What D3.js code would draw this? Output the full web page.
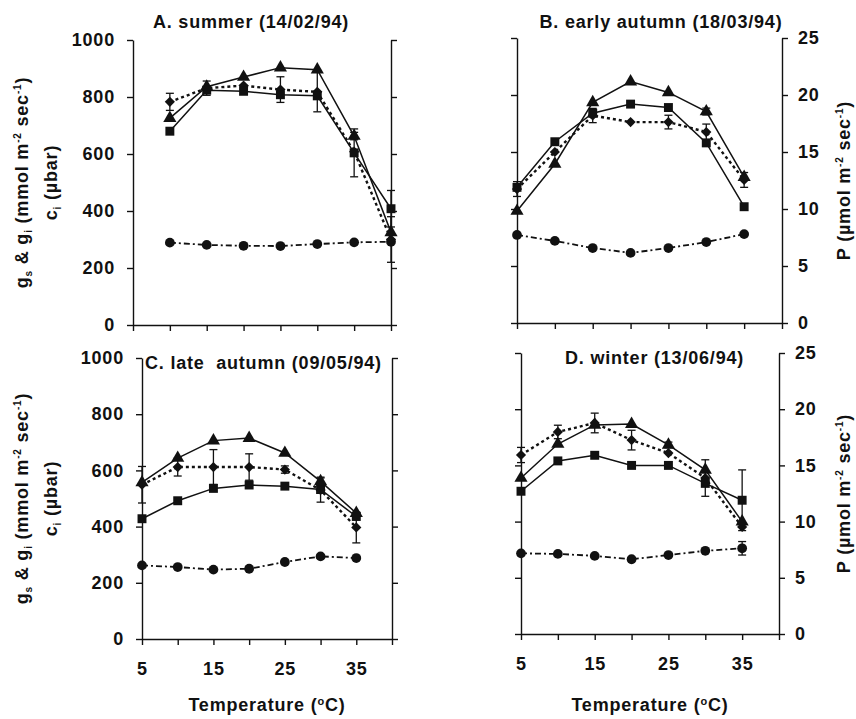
<!DOCTYPE html>
<html>
<head>
<meta charset="utf-8">
<script src="https://cdn.jsdelivr.net/npm/d3@7"></script>
<style>
  body { margin: 0; background: #fff; }
  text { font-family: "Liberation Sans", Arial, sans-serif; font-weight: bold; fill: #111; letter-spacing: 0.8px; white-space: pre; }
</style>
</head>
<body>
<div id="chart"></div>
<script>
/* DATA */
const temps = [5, 10, 15, 20, 25, 30, 35];
const tempsSummer = [10, 15, 20, 25, 30, 35, 40];
const titles = ["A. summer (14/02/94)", "B. early autumn (18/03/94)", "C. late  autumn (09/05/94)", "D. winter (13/06/94)"];
const gTicks = [0, 200, 400, 600, 800, 1000];
const pTicks = [0, 5, 10, 15, 20, 25];
const tempTicks = [5, 10, 15, 20, 25, 30, 35, 40];
const tempLabels = [5, 15, 25, 35];

// triangles, solid line (left axis)
const gsA = [726, 836, 870, 903, 896, 663, 325];
const gsB = [393, 558, 774, 847, 809, 742, 512];
const gsC = [557, 644, 706, 715, 662, 561, 448];
const gsD = [555, 676, 744, 747, 673, 584, 400];
const gsErrA = [0, 0, 0, 0, 0, 13, 0];
const gsErrB = [0, 0, 0, 0, 0, 12, 0];
const gsErrC = [0, 0, 0, 0, 0, 15, 0];
const gsErrD = [0, 0, 0, 0, 10, 0, 0];

// diamonds, dotted line (left axis)
const giA = [783, 831, 840, 826, 818, 608, 300];
const giB = [470, 600, 728, 705, 705, 670, 502];
const giC = [549, 612, 612, 612, 603, 530, 397];
const giD = [637, 719, 751, 690, 644, 555, 381];
const giErrA = [30, 25, 0, 45, 70, 0, 80];
const giErrB = [26, 0, 25, 0, 24, 28, 26];
const giErrC = [65, 32, 62, 47, 13, 43, 55];
const giErrD = [27, 24, 35, 35, 0, 65, 0];

// circles, dash-dot line (left axis)
const ciA = [289, 281, 278, 277, 284, 290, 292];
const ciB = [309, 288, 263, 246, 263, 284, 312];
const ciC = [262, 256, 247, 250, 274, 294, 288];
const ciD = [287, 285, 278, 266, 281, 296, 305];
const ciErrD = [0, 0, 0, 0, 0, 0, 24];

// squares, solid line (right axis, P)
const pA = [17.0, 20.6, 20.5, 20.2, 20.1, 15.1, 10.2];
const pB = [11.9, 15.9, 18.4, 19.2, 18.9, 15.8, 10.2];
const pC = [10.7, 12.3, 13.4, 13.7, 13.6, 13.3, 10.9];
const pD = [12.7, 15.4, 15.9, 15.0, 15.0, 13.4, 11.9];
const pErrA = [0, 0, 0, 0, 0, 2.1, 1.6];
const pErrD = [0, 0, 0, 0, 0, 0, 2.7];

const zeros = [0, 0, 0, 0, 0, 0, 0];

/* LAYOUT */
const width = 856, height = 719;
const panels = [
  { title: titles[0], x: tempsSummer, box: [133, 391, 40, 325], left: true, right: false, bottom: false,
    gs: gsA, gsErr: gsErrA, gi: giA, giErr: giErrA, ci: ciA, ciErr: zeros, p: pA, pErr: pErrA,
    titlePos: [251, 28, "middle"] },
  { title: titles[1], x: temps, box: [517, 782, 38, 323], left: false, right: true, bottom: false,
    gs: gsB, gsErr: gsErrB, gi: giB, giErr: giErrB, ci: ciB, ciErr: zeros, p: pB, pErr: zeros,
    titlePos: [661, 28, "middle"] },
  { title: titles[2], x: temps, box: [142, 392, 358, 639], left: true, right: false, bottom: true,
    gs: gsC, gsErr: gsErrC, gi: giC, giErr: giErrC, ci: ciC, ciErr: zeros, p: pC, pErr: zeros,
    titlePos: [145, 369, "start"] },
  { title: titles[3], x: temps, box: [521, 779, 353, 634], left: false, right: true, bottom: true,
    gs: gsD, gsErr: gsErrD, gi: giD, giErr: giErrD, ci: ciD, ciErr: ciErrD, p: pD, pErr: pErrD,
    titlePos: [565, 364, "start"] }
];

const svg = d3.select("#chart").append("svg")
  .attr("width", width)
  .attr("height", height);

panels.forEach(drawPanel);

function drawPanel(cfg) {
  const [x0, x1, y0, y1] = cfg.box;
  const x = d3.scaleLinear().domain([5, 40]).range([x0, x1]);
  const y = d3.scaleLinear().domain([0, 1000]).range([y1, y0]);
  const yP = d3.scaleLinear().domain([0, 25]).range([y1, y0]);
  const g = svg.append("g");

  // axes
  const left = g.append("g").attr("transform", `translate(${x0},0)`)
    .call(d3.axisLeft(y).tickValues(gTicks).tickSize(6).tickSizeOuter(0).tickPadding(12)
      .tickFormat(d => cfg.left ? d : ""));
  const right = g.append("g").attr("transform", `translate(${x1},0)`)
    .call(d3.axisRight(yP).tickValues(pTicks).tickSize(6).tickSizeOuter(0).tickPadding(10)
      .tickFormat(d => cfg.right ? d : ""));
  const bottom = g.append("g").attr("transform", `translate(0,${y1})`)
    .call(d3.axisBottom(x).tickValues(tempTicks).tickSize(6).tickSizeOuter(0).tickPadding(17)
      .tickFormat(d => cfg.bottom && tempLabels.includes(d) ? d : ""));
  [left, right, bottom].forEach(a => {
    a.selectAll("path, line").attr("stroke", "#111").attr("stroke-width", 1.4);
    a.selectAll("text").style("font-size", "18px").attr("fill", "#111");
  });

  const series = [
    { v: cfg.ci, e: cfg.ciErr, sc: y, sym: d3.symbolCircle, size: 75, dash: "6,3,2,3", w: 1.8, rot: 0 },
    { v: cfg.gi, e: cfg.giErr, sc: y, sym: d3.symbolSquare, size: 52, dash: "3,3", w: 2.4, rot: 45 },
    { v: cfg.p, e: cfg.pErr, sc: yP, sym: d3.symbolSquare, size: 80, dash: null, w: 1.5, rot: 0 },
    { v: cfg.gs, e: cfg.gsErr, sc: y, sym: d3.symbolTriangle, size: 75, dash: null, w: 1.5, rot: 0 }
  ];

  series.forEach(s => {
    const pts = s.v.map((v, i) => ({ t: cfg.x[i], v: v, e: s.e[i] }));
    const line = d3.line().x(d => x(d.t)).y(d => s.sc(d.v));
    g.append("path")
      .datum(pts)
      .attr("d", line)
      .attr("fill", "none")
      .attr("stroke", "#111")
      .attr("stroke-width", s.w)
      .attr("stroke-dasharray", s.dash);

    const bars = g.selectAll(null).data(pts.filter(d => d.e > 0)).join("g")
      .attr("stroke", "#111").attr("stroke-width", 1.3);
    bars.append("line")
      .attr("x1", d => x(d.t)).attr("x2", d => x(d.t))
      .attr("y1", d => s.sc(d.v - d.e)).attr("y2", d => s.sc(d.v + d.e));
    bars.append("line")
      .attr("x1", d => x(d.t) - 4).attr("x2", d => x(d.t) + 4)
      .attr("y1", d => s.sc(d.v - d.e)).attr("y2", d => s.sc(d.v - d.e));
    bars.append("line")
      .attr("x1", d => x(d.t) - 4).attr("x2", d => x(d.t) + 4)
      .attr("y1", d => s.sc(d.v + d.e)).attr("y2", d => s.sc(d.v + d.e));

    g.selectAll(null).data(pts).join("path")
      .attr("d", d3.symbol().type(s.sym).size(s.size))
      .attr("transform", d => `translate(${x(d.t)},${s.sc(d.v)}) rotate(${s.rot})`)
      .attr("fill", "#111");
  });

  // title
  g.append("text")
    .attr("x", cfg.titlePos[0]).attr("y", cfg.titlePos[1])
    .attr("text-anchor", cfg.titlePos[2])
    .style("font-size", "18px")
    .text(cfg.title);

  const midY = (y0 + y1) / 2;
  if (cfg.left) {
    const l1 = g.append("text")
      .attr("transform", `translate(28,${midY}) rotate(-90)`)
      .attr("text-anchor", "middle")
      .style("font-size", "18px");
    l1.append("tspan").text("g");
    l1.append("tspan").attr("dy", 4).style("font-size", "10px").text("s");
    l1.append("tspan").attr("dy", -4).text(" & g");
    l1.append("tspan").attr("dy", 4).style("font-size", "10px").text("i");
    l1.append("tspan").attr("dy", -4).text(" (mmol m");
    l1.append("tspan").attr("dy", -7).style("font-size", "10px").text("-2");
    l1.append("tspan").attr("dy", 7).text(" sec");
    l1.append("tspan").attr("dy", -7).style("font-size", "10px").text("-1");
    l1.append("tspan").attr("dy", 7).text(")");

    const l2 = g.append("text")
      .attr("transform", `translate(57,${midY}) rotate(-90)`)
      .attr("text-anchor", "middle")
      .style("font-size", "18px");
    l2.append("tspan").text("c");
    l2.append("tspan").attr("dy", 4).style("font-size", "10px").text("i");
    l2.append("tspan").attr("dy", -4).text(" (\u00b5bar)");
  }
  if (cfg.right) {
    const l3 = g.append("text")
      .attr("transform", `translate(850,${midY}) rotate(-90)`)
      .attr("text-anchor", "middle")
      .style("font-size", "18px");
    l3.append("tspan").text("P (\u00b5mol m");
    l3.append("tspan").attr("dy", -7).style("font-size", "10px").text("-2");
    l3.append("tspan").attr("dy", 7).text(" sec");
    l3.append("tspan").attr("dy", -7).style("font-size", "10px").text("-1");
    l3.append("tspan").attr("dy", 7).text(")");
  }
  if (cfg.bottom) {
    const xl = g.append("text")
      .attr("x", (x0 + x1) / 2).attr("y", 711)
      .attr("text-anchor", "middle")
      .style("font-size", "18px");
    xl.append("tspan").text("Temperature (");
    xl.append("tspan").attr("dy", -6).style("font-size", "11px").text("o");
    xl.append("tspan").attr("dy", 6).text("C)");
  }
}
</script>
</body>
</html>
